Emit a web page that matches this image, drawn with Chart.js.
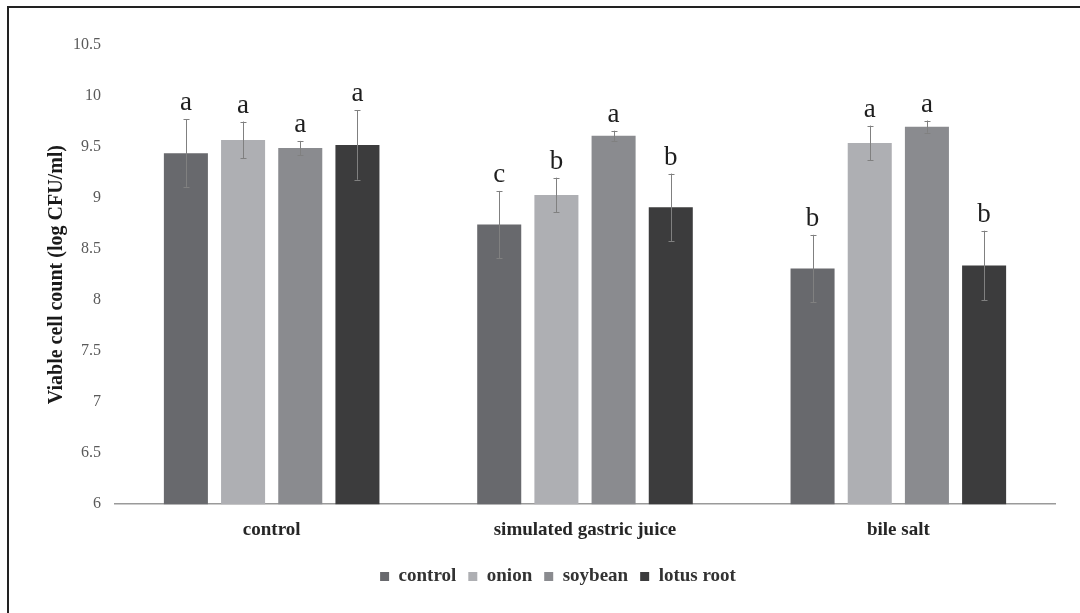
<!DOCTYPE html>
<html>
<head>
<meta charset="utf-8">
<title>Viable cell count</title>
<script src="https://cdn.jsdelivr.net/npm/chart.js@4.4.1/dist/chart.umd.min.js"></script>
<style>
  html, body { margin: 0; padding: 0; background: #fff; }
  #wrap { position: relative; width: 1080px; height: 613px; }
</style>
</head>
<body>
<div id="wrap"><canvas id="chart" width="1080" height="613"></canvas></div>
<script>
// Treatment groups on the x axis
const categories = ['control', 'simulated gastric juice', 'bile salt'];
const seriesNames = ['control', 'onion', 'soybean', 'lotus root'];

// Mean viable cell count (log CFU/ml) per series
const controlValues = [9.44, 8.74, 8.31];
const onionValues = [9.57, 9.03, 9.54];
const soybeanValues = [9.49, 9.61, 9.70];
const lotusRootValues = [9.52, 8.91, 8.34];

// Standard deviations drawn as error bars
const controlErrors = [0.33, 0.33, 0.33];
const onionErrors = [0.18, 0.17, 0.17];
const soybeanErrors = [0.07, 0.05, 0.06];
const lotusRootErrors = [0.34, 0.33, 0.34];

// Significance letters above the bars
const controlLetters = ['a', 'c', 'b'];
const onionLetters = ['a', 'b', 'a'];
const soybeanLetters = ['a', 'a', 'a'];
const lotusRootLetters = ['a', 'b', 'b'];

const yTickLabels = ['6', '6.5', '7', '7.5', '8', '8.5', '9', '9.5', '10', '10.5'];

const seriesColors = ['#68696d', '#aeafb3', '#8a8b8f', '#3c3c3d'];
const seriesValues = [controlValues, onionValues, soybeanValues, lotusRootValues];
const seriesErrors = [controlErrors, onionErrors, soybeanErrors, lotusRootErrors];
const seriesLetters = [controlLetters, onionLetters, soybeanLetters, lotusRootLetters];

/**
 * Draws error bars and the letters above them, using the bar positions of the chart
 */
const errorBarPlugin = {
  id: 'errorBars',
  afterDatasetsDraw(chart) {
    const ctx = chart.ctx;
    const yScale = chart.scales.y;
    ctx.save();
    chart.data.datasets.forEach((dataset, i) => {
      const meta = chart.getDatasetMeta(i);
      meta.data.forEach((bar, j) => {
        const value = dataset.data[j];
        const err = seriesErrors[i][j];
        const top = yScale.getPixelForValue(value + err);
        const bottom = yScale.getPixelForValue(value - err);
        const x = Math.round(bar.x) + 0.5;
        ctx.strokeStyle = '#808080';
        ctx.lineWidth = 1;
        ctx.beginPath();
        ctx.moveTo(x, top);
        ctx.lineTo(x, bottom);
        ctx.moveTo(x - 3, Math.round(top) + 0.5);
        ctx.lineTo(x + 3, Math.round(top) + 0.5);
        ctx.moveTo(x - 3, Math.round(bottom) + 0.5);
        ctx.lineTo(x + 3, Math.round(bottom) + 0.5);
        ctx.stroke();
        // significance letter
        ctx.fillStyle = '#1e1e1e';
        ctx.font = '27px "Liberation Serif"';
        ctx.textAlign = 'center';
        ctx.textBaseline = 'alphabetic';
        ctx.fillText(seriesLetters[i][j], bar.x, top - 9);
      });
    });
    ctx.restore();
  }
};

/**
 * Outer frame of the figure (only top and left edges fall inside the picture)
 */
const framePlugin = {
  id: 'frame',
  beforeDraw(chart) {
    const ctx = chart.ctx;
    ctx.save();
    ctx.fillStyle = '#ffffff';
    ctx.fillRect(0, 0, chart.width, chart.height);
    ctx.strokeStyle = '#222222';
    ctx.lineWidth = 2;
    ctx.strokeRect(8, 7, 1200, 800);
    ctx.restore();
  }
};

new Chart(document.getElementById('chart'), {
  type: 'bar',
  data: {
    labels: categories,
    datasets: seriesNames.map((name, i) => ({
      label: name,
      data: seriesValues[i],
      backgroundColor: seriesColors[i],
      borderWidth: 0,
      categoryPercentage: 0.73,
      barPercentage: 0.77
    }))
  },
  options: {
    responsive: false,
    animation: false,
    layout: {
      padding: {top: 45, right: 25, bottom: 17, left: 61}
    },
    plugins: {
      tooltip: {enabled: false},
      legend: {
        position: 'bottom',
        labels: {
          boxWidth: 9,
          boxHeight: 9,
          padding: 12,
          color: '#333333',
          font: {family: 'Liberation Serif', size: 19, weight: 'bold'}
        }
      }
    },
    scales: {
      x: {
        grid: {display: false, drawTicks: false},
        border: {display: true, color: '#9a9a9a', width: 1.5},
        ticks: {
          padding: 14,
          color: '#262626',
          font: {family: 'Liberation Serif', size: 19, weight: 'bold'}
        }
      },
      y: {
        min: 6,
        max: 10.5,
        grid: {display: false, drawTicks: false},
        border: {display: false},
        afterFit(scale) {
          scale.width = 54;
        },
        ticks: {
          stepSize: 0.5,
          padding: 14,
          color: '#5a5a5a',
          font: {family: 'Liberation Serif', size: 16},
          callback: (value, index) => yTickLabels[index]
        },
        title: {
          display: true,
          text: 'Viable cell count (log CFU/ml)',
          color: '#1a1a1a',
          padding: {top: -14, bottom: 0},
          font: {family: 'Liberation Serif', size: 20, weight: 'bold', lineHeight: 1}
        }
      }
    }
  },
  plugins: [framePlugin, errorBarPlugin]
});
</script>
</body>
</html>
